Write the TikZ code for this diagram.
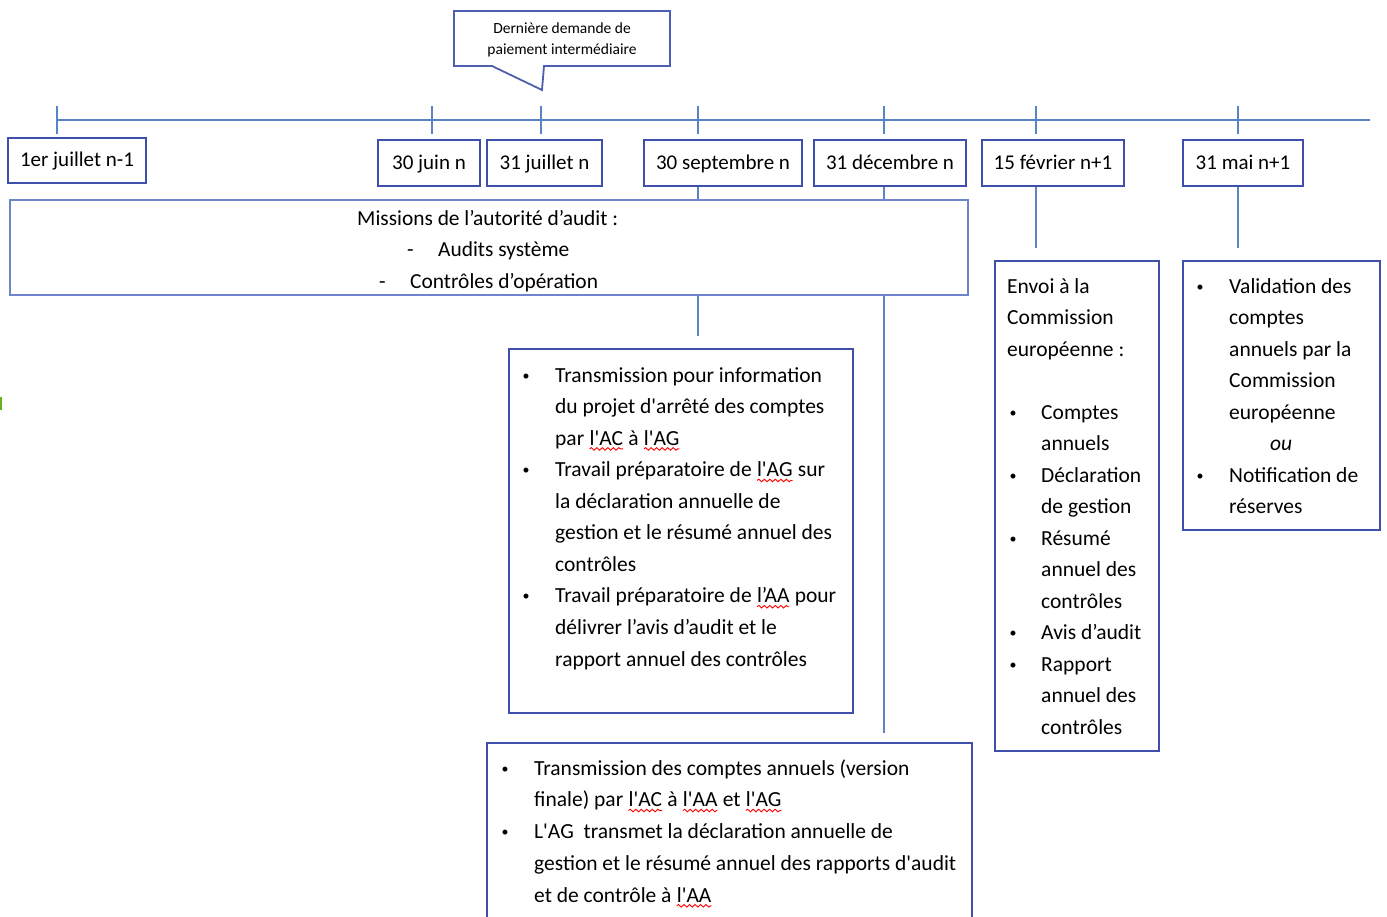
\documentclass[tikz,border=0pt]{standalone}
\usepackage{fontspec}
\setmainfont{Carlito}[Ligatures=TeXOff]
\usetikzlibrary{decorations.pathmorphing}
\newcommand\wv[1]{\tikz[baseline=(w.base),x=1pt,y=1pt]{\node[inner sep=0pt,outer sep=0pt,anchor=base west,draw=none] (w) at (0,0) {#1};\draw[red,line width=0.9pt,decorate,decoration={snake,amplitude=1.3pt,segment length=5.5pt}] ([yshift=-3.8pt]w.base west) -- ([yshift=-3.8pt]w.base east);}}
\definecolor{tlblue}{RGB}{86,132,196}
\definecolor{boxblue}{RGB}{62,80,172}
\definecolor{misblue}{RGB}{112,132,206}
\definecolor{calblue}{RGB}{78,94,176}
\definecolor{artgreen}{RGB}{100,180,30}
\newcommand\dotb{\hspace*{2.5pt}\raisebox{2pt}{\fontsize{14}{14}\selectfont •}}
\newcommand\bl{\makebox[35pt][l]{\dotb}}
\newcommand\ind{\hspace*{35pt}}
\newcommand\blb{\makebox[34pt][l]{\dotb}}
\newcommand\indb{\hspace*{34pt}}
\begin{document}
\begin{tikzpicture}[x=1pt,y=-1pt,
  tl/.style={draw=tlblue,line width=2},
  datebox/.style={draw=boxblue,line width=1.8,minimum height=46,inner sep=0,
    font=\fontsize{21}{25}\selectfont,text height=16,text depth=4},
  infobox/.style={draw=boxblue,line width=1.8,inner sep=0},
  txt/.style={anchor=base west,inner sep=0}]
\useasboundingbox (0,0) rectangle (1387,916);
% timeline
\coordinate (t0) at (57,120);
\coordinate (tE) at (1370,120);
\draw[tl] (t0) -- (tE);
\foreach \n/\x in {1/57,2/432,3/541,4/698,5/884,6/1036,7/1238}{
  \coordinate (t\n) at (\x,120);
  \draw[tl] (\x,106) -- (\x,134);
}
% callout
\draw[draw=calblue,line width=1.8,fill=white] (454,11) -- (670,11) -- (670,66) -- (544,66) -- (542,90) -- (492,66) -- (454,66) -- cycle;
\node[anchor=base,inner sep=0] (cal) at (562,33) {\parbox[t]{210pt}{\centering\fontsize{15.5}{21}\selectfont Dernière demande de\\ paiement intermédiaire}};
% date boxes
\node[datebox,minimum width=138,minimum height=45] (d1) at (77,160.5) {1er juillet n-1};
\node[datebox,minimum width=102] (d2) at (429,163) {30 juin n};
\node[datebox,minimum width=115] (d3) at (544.5,163) {31 juillet n};
\node[datebox,minimum width=158] (d4) at (723,163) {30 septembre n};
\node[datebox,minimum width=152] (d5) at (890,163) {31 décembre n};
\node[datebox,minimum width=142] (d6) at (1053,163) {15 février n+1};
\node[datebox,minimum width=120] (d7) at (1243,163) {31 mai n+1};
% boxes
\node[draw=misblue,line width=2.4,inner sep=0,minimum width=958,minimum height=95] (mis) at (489,247.5) {};
\node[infobox,minimum width=344,minimum height=364] (bT) at (681,531) {};
\node[infobox,minimum width=485,minimum height=187] (bB) at (729.5,836.5) {};
\node[infobox,minimum width=164,minimum height=490] (bE) at (1077,506) {};
\node[infobox,minimum width=197,minimum height=269] (bV) at (1281.5,395.5) {};
% connectors
\coordinate (e4) at (698,336);
\coordinate (e5) at (884,733);
\coordinate (e6) at (1036,248);
\coordinate (e7) at (1238,248);
\draw[tl] (t4 |- d4.south) -- (t4 |- mis.north);
\draw[tl] (t4 |- mis.south) -- (e4);
\draw[tl] (t5 |- d5.south) -- (t5 |- mis.north);
\draw[tl] (t5 |- mis.south) -- (e5);
\draw[tl] (t6 |- d6.south) -- (e6);
\draw[tl] (t7 |- d7.south) -- (e7);
% texts
\node[txt] (tM) at (357,225) {\parbox[t]{400pt}{\fontsize{21.4}{31.5}\selectfont
Missions de l’autorité d’audit :\\
\hspace*{50pt}\makebox[31pt][l]{-}Audits système\\
\hspace*{22pt}\makebox[31pt][l]{-}Contrôles d’opération}};
\node[txt] (tT) at (520,382) {\parbox[t]{340pt}{\raggedright\fontsize{21.5}{31.56}\selectfont
\bl Transmission pour information\\
\ind du projet d'arrêté des comptes\\
\ind par \wv{l'AC} à \wv{l'AG}\\
\bl Travail préparatoire de \wv{l'AG} sur\\
\ind la déclaration annuelle de\\
\ind gestion et le résumé annuel des\\
\ind contrôles\\
\bl Travail préparatoire de \wv{l’AA} pour\\
\ind délivrer l’avis d’audit et le\\
\ind rapport annuel des contrôles}};
\node[txt] (tB) at (499,775) {\parbox[t]{470pt}{\raggedright\fontsize{21.5}{31.75}\selectfont
\bl Transmission des comptes annuels (version\\
\ind finale) par \wv{l'AC} à \wv{l'AA} et \wv{l'AG}\\
\bl L'AG\ \ transmet la déclaration annuelle de\\
\ind gestion et le résumé annuel des rapports d'audit\\
\ind et de contrôle à \wv{l'AA}}};
\node[txt] (tE) at (1007,293) {\parbox[t]{150pt}{\raggedright\fontsize{21.5}{31.5}\selectfont
Envoi à la\\
Commission\\
européenne :\\
\mbox{}\\
\blb Comptes\\
\indb annuels\\
\blb Déclaration\\
\indb de gestion\\
\blb Résumé\\
\indb annuel des\\
\indb contrôles\\
\blb Avis d’audit\\
\blb Rapport\\
\indb annuel des\\
\indb contrôles}};
\node[txt] (tV) at (1194,293) {\parbox[t]{185pt}{\raggedright\fontsize{21.5}{31.57}\selectfont
\bl Validation des\\
\ind comptes\\
\ind annuels par la\\
\ind Commission\\
\ind européenne\\
\hspace*{76pt}\textit{ou}\\
\bl Notification de\\
\ind réserves}};
% small green mark at left edge
\draw[draw=artgreen,line width=2.5] (1,397) -- (1,410);
\end{tikzpicture}
\end{document}
